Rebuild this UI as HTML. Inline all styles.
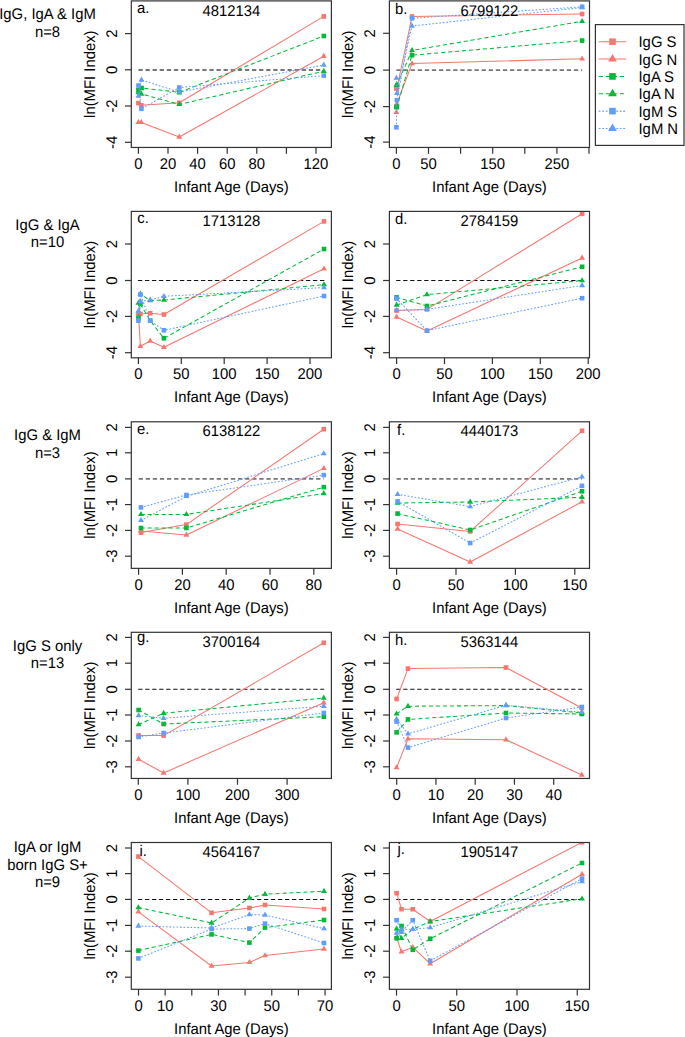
<!DOCTYPE html>
<html><head><meta charset="utf-8"><style>
html,body{margin:0;padding:0;background:#fff;}
svg{display:block;}
text{font-family:"Liberation Sans",sans-serif;font-size:14.85px;fill:#000;text-rendering:geometricPrecision;}
</style></head><body>
<svg width="685" height="1037" viewBox="0 0 685 1037">
<rect width="685" height="1037" fill="#fff"/>
<clipPath id="ca"><rect x="131.3" y="0.9" width="200.10" height="146.55"/></clipPath>
<g clip-path="url(#ca)">
<line x1="138.4" y1="69.95" x2="323.8" y2="69.95" stroke="#767676" stroke-width="1.9" stroke-dasharray="4.3 2.8"/>
<polyline points="138.40,103.10 141.30,105.30 179.30,102.80 323.80,16.40" fill="none" stroke="#F8766D" stroke-width="1.05" stroke-linecap="round" stroke-linejoin="round"/>
<rect x="136.10" y="100.80" width="4.60" height="4.60" fill="#F8766D"/>
<rect x="139.00" y="103.00" width="4.60" height="4.60" fill="#F8766D"/>
<rect x="177.00" y="100.50" width="4.60" height="4.60" fill="#F8766D"/>
<rect x="321.50" y="14.10" width="4.60" height="4.60" fill="#F8766D"/>
<polyline points="138.40,122.40 141.30,122.40 179.30,137.00 323.80,56.20" fill="none" stroke="#F8766D" stroke-width="1.05" stroke-linecap="round" stroke-linejoin="round"/>
<polygon points="138.40,118.98 141.36,124.11 135.44,124.11" fill="#F8766D"/>
<polygon points="141.30,118.98 144.26,124.11 138.34,124.11" fill="#F8766D"/>
<polygon points="179.30,133.58 182.26,138.71 176.34,138.71" fill="#F8766D"/>
<polygon points="323.80,52.78 326.76,57.91 320.84,57.91" fill="#F8766D"/>
<polyline points="138.40,90.00 141.60,88.00 179.30,92.30 323.80,36.00" fill="none" stroke="#00BA38" stroke-width="1.05" stroke-linecap="round" stroke-linejoin="round" stroke-dasharray="3.4 3.6"/>
<rect x="136.10" y="87.70" width="4.60" height="4.60" fill="#00BA38"/>
<rect x="139.30" y="85.70" width="4.60" height="4.60" fill="#00BA38"/>
<rect x="177.00" y="90.00" width="4.60" height="4.60" fill="#00BA38"/>
<rect x="321.50" y="33.70" width="4.60" height="4.60" fill="#00BA38"/>
<polyline points="138.40,92.50 141.40,94.00 179.30,104.40 323.80,71.20" fill="none" stroke="#00BA38" stroke-width="1.05" stroke-linecap="round" stroke-linejoin="round" stroke-dasharray="3.4 3.6"/>
<polygon points="138.40,89.08 141.36,94.21 135.44,94.21" fill="#00BA38"/>
<polygon points="141.40,90.58 144.36,95.71 138.44,95.71" fill="#00BA38"/>
<polygon points="179.30,100.98 182.26,106.11 176.34,106.11" fill="#00BA38"/>
<polygon points="323.80,67.78 326.76,72.91 320.84,72.91" fill="#00BA38"/>
<polyline points="138.50,85.50 141.40,108.80 179.30,87.50 323.80,75.60" fill="none" stroke="#619CFF" stroke-width="1.05" stroke-linecap="round" stroke-linejoin="round" stroke-dasharray="0.9 2.6"/>
<rect x="136.20" y="83.20" width="4.60" height="4.60" fill="#619CFF"/>
<rect x="139.10" y="106.50" width="4.60" height="4.60" fill="#619CFF"/>
<rect x="177.00" y="85.20" width="4.60" height="4.60" fill="#619CFF"/>
<rect x="321.50" y="73.30" width="4.60" height="4.60" fill="#619CFF"/>
<polyline points="138.40,96.00 141.40,80.00 179.30,92.00 323.80,65.00" fill="none" stroke="#619CFF" stroke-width="1.05" stroke-linecap="round" stroke-linejoin="round" stroke-dasharray="0.9 2.6"/>
<polygon points="138.40,92.58 141.36,97.71 135.44,97.71" fill="#619CFF"/>
<polygon points="141.40,76.58 144.36,81.71 138.44,81.71" fill="#619CFF"/>
<polygon points="179.30,88.58 182.26,93.71 176.34,93.71" fill="#619CFF"/>
<polygon points="323.80,61.58 326.76,66.71 320.84,66.71" fill="#619CFF"/>
</g>
<rect x="131.3" y="0.9" width="200.10" height="146.55" fill="none" stroke="#333" stroke-width="1.2"/>
<line x1="138.4" y1="147.45" x2="138.4" y2="153.75" stroke="#333" stroke-width="1.2"/>
<text transform="translate(138.40,168.95) scale(1,1.04)" text-anchor="middle">0</text>
<line x1="168.0" y1="147.45" x2="168.0" y2="153.75" stroke="#333" stroke-width="1.2"/>
<text transform="translate(168.00,168.95) scale(1,1.04)" text-anchor="middle">20</text>
<line x1="197.6" y1="147.45" x2="197.6" y2="153.75" stroke="#333" stroke-width="1.2"/>
<text transform="translate(197.60,168.95) scale(1,1.04)" text-anchor="middle">40</text>
<line x1="227.2" y1="147.45" x2="227.2" y2="153.75" stroke="#333" stroke-width="1.2"/>
<text transform="translate(227.20,168.95) scale(1,1.04)" text-anchor="middle">60</text>
<line x1="256.8" y1="147.45" x2="256.8" y2="153.75" stroke="#333" stroke-width="1.2"/>
<text transform="translate(256.80,168.95) scale(1,1.04)" text-anchor="middle">80</text>
<line x1="286.4" y1="147.45" x2="286.4" y2="153.75" stroke="#333" stroke-width="1.2"/>
<line x1="316.0" y1="147.45" x2="316.0" y2="153.75" stroke="#333" stroke-width="1.2"/>
<text transform="translate(316.00,168.95) scale(1,1.04)" text-anchor="middle">120</text>
<line x1="125.00" y1="33.6" x2="131.3" y2="33.6" stroke="#333" stroke-width="1.2"/>
<text transform="translate(117.30,33.60) rotate(-90) scale(1,1.04)" text-anchor="middle">2</text>
<line x1="125.00" y1="69.8" x2="131.3" y2="69.8" stroke="#333" stroke-width="1.2"/>
<text transform="translate(117.30,69.80) rotate(-90) scale(1,1.04)" text-anchor="middle">0</text>
<line x1="125.00" y1="106.0" x2="131.3" y2="106.0" stroke="#333" stroke-width="1.2"/>
<text transform="translate(117.30,106.00) rotate(-90) scale(1,1.04)" text-anchor="middle">-2</text>
<line x1="125.00" y1="142.3" x2="131.3" y2="142.3" stroke="#333" stroke-width="1.2"/>
<text transform="translate(117.30,142.30) rotate(-90) scale(1,1.04)" text-anchor="middle">-4</text>
<text transform="translate(231.35,191.95) scale(1,1.04)" text-anchor="middle">Infant Age (Days)</text>
<text transform="translate(94.60,74.17) rotate(-90) scale(1,1.04)" text-anchor="middle">ln(MFI Index)</text>
<text transform="translate(143.10,12.70) scale(1,1.04)" text-anchor="middle">a.</text>
<text transform="translate(231.35,15.50) scale(1,1.04)" text-anchor="middle">4812134</text>
<clipPath id="cb"><rect x="389.4" y="0.9" width="200.10" height="146.55"/></clipPath>
<g clip-path="url(#cb)">
<line x1="396.4" y1="70.1" x2="582.1" y2="70.1" stroke="#767676" stroke-width="1.9" stroke-dasharray="4.3 2.8"/>
<polyline points="396.40,88.50 396.90,88.50 412.00,16.50 582.10,14.00" fill="none" stroke="#F8766D" stroke-width="1.05" stroke-linecap="round" stroke-linejoin="round"/>
<rect x="394.10" y="86.20" width="4.60" height="4.60" fill="#F8766D"/>
<rect x="394.60" y="86.20" width="4.60" height="4.60" fill="#F8766D"/>
<rect x="409.70" y="14.20" width="4.60" height="4.60" fill="#F8766D"/>
<rect x="579.80" y="11.70" width="4.60" height="4.60" fill="#F8766D"/>
<polyline points="396.40,112.40 396.90,103.80 412.00,63.60 582.10,58.80" fill="none" stroke="#F8766D" stroke-width="1.05" stroke-linecap="round" stroke-linejoin="round"/>
<polygon points="396.40,108.98 399.36,114.11 393.44,114.11" fill="#F8766D"/>
<polygon points="396.90,100.38 399.86,105.51 393.94,105.51" fill="#F8766D"/>
<polygon points="412.00,60.18 414.96,65.31 409.04,65.31" fill="#F8766D"/>
<polygon points="582.10,55.38 585.06,60.51 579.14,60.51" fill="#F8766D"/>
<polyline points="396.40,107.00 396.90,107.00 412.00,55.20 582.10,40.60" fill="none" stroke="#00BA38" stroke-width="1.05" stroke-linecap="round" stroke-linejoin="round" stroke-dasharray="3.4 3.6"/>
<rect x="394.10" y="104.70" width="4.60" height="4.60" fill="#00BA38"/>
<rect x="394.60" y="104.70" width="4.60" height="4.60" fill="#00BA38"/>
<rect x="409.70" y="52.90" width="4.60" height="4.60" fill="#00BA38"/>
<rect x="579.80" y="38.30" width="4.60" height="4.60" fill="#00BA38"/>
<polyline points="396.40,85.00 396.90,85.00 412.00,50.40 582.10,21.30" fill="none" stroke="#00BA38" stroke-width="1.05" stroke-linecap="round" stroke-linejoin="round" stroke-dasharray="3.4 3.6"/>
<polygon points="396.40,81.58 399.36,86.71 393.44,86.71" fill="#00BA38"/>
<polygon points="396.90,81.58 399.86,86.71 393.94,86.71" fill="#00BA38"/>
<polygon points="412.00,46.98 414.96,52.11 409.04,52.11" fill="#00BA38"/>
<polygon points="582.10,17.88 585.06,23.01 579.14,23.01" fill="#00BA38"/>
<polyline points="396.40,127.30 396.90,100.20 412.00,18.30 582.10,6.80" fill="none" stroke="#619CFF" stroke-width="1.05" stroke-linecap="round" stroke-linejoin="round" stroke-dasharray="0.9 2.6"/>
<rect x="394.10" y="125.00" width="4.60" height="4.60" fill="#619CFF"/>
<rect x="394.60" y="97.90" width="4.60" height="4.60" fill="#619CFF"/>
<rect x="409.70" y="16.00" width="4.60" height="4.60" fill="#619CFF"/>
<rect x="579.80" y="4.50" width="4.60" height="4.60" fill="#619CFF"/>
<polyline points="396.40,78.10 396.90,93.30 412.00,26.00 582.10,7.50" fill="none" stroke="#619CFF" stroke-width="1.05" stroke-linecap="round" stroke-linejoin="round" stroke-dasharray="0.9 2.6"/>
<polygon points="396.40,74.68 399.36,79.81 393.44,79.81" fill="#619CFF"/>
<polygon points="396.90,89.88 399.86,95.01 393.94,95.01" fill="#619CFF"/>
<polygon points="412.00,22.58 414.96,27.71 409.04,27.71" fill="#619CFF"/>
<polygon points="582.10,4.08 585.06,9.21 579.14,9.21" fill="#619CFF"/>
</g>
<rect x="389.4" y="0.9" width="200.10" height="146.55" fill="none" stroke="#333" stroke-width="1.2"/>
<line x1="396.4" y1="147.45" x2="396.4" y2="153.75" stroke="#333" stroke-width="1.2"/>
<text transform="translate(396.40,168.95) scale(1,1.04)" text-anchor="middle">0</text>
<line x1="428.5" y1="147.45" x2="428.5" y2="153.75" stroke="#333" stroke-width="1.2"/>
<text transform="translate(428.50,168.95) scale(1,1.04)" text-anchor="middle">50</text>
<line x1="460.6" y1="147.45" x2="460.6" y2="153.75" stroke="#333" stroke-width="1.2"/>
<line x1="492.7" y1="147.45" x2="492.7" y2="153.75" stroke="#333" stroke-width="1.2"/>
<text transform="translate(492.70,168.95) scale(1,1.04)" text-anchor="middle">150</text>
<line x1="524.8" y1="147.45" x2="524.8" y2="153.75" stroke="#333" stroke-width="1.2"/>
<line x1="556.9" y1="147.45" x2="556.9" y2="153.75" stroke="#333" stroke-width="1.2"/>
<text transform="translate(556.90,168.95) scale(1,1.04)" text-anchor="middle">250</text>
<line x1="589.0" y1="147.45" x2="589.0" y2="153.75" stroke="#333" stroke-width="1.2"/>
<line x1="383.10" y1="33.3" x2="389.4" y2="33.3" stroke="#333" stroke-width="1.2"/>
<text transform="translate(375.40,33.30) rotate(-90) scale(1,1.04)" text-anchor="middle">2</text>
<line x1="383.10" y1="70.1" x2="389.4" y2="70.1" stroke="#333" stroke-width="1.2"/>
<text transform="translate(375.40,70.10) rotate(-90) scale(1,1.04)" text-anchor="middle">0</text>
<line x1="383.10" y1="106.6" x2="389.4" y2="106.6" stroke="#333" stroke-width="1.2"/>
<text transform="translate(375.40,106.60) rotate(-90) scale(1,1.04)" text-anchor="middle">-2</text>
<line x1="383.10" y1="142.1" x2="389.4" y2="142.1" stroke="#333" stroke-width="1.2"/>
<text transform="translate(375.40,142.10) rotate(-90) scale(1,1.04)" text-anchor="middle">-4</text>
<text transform="translate(489.45,191.95) scale(1,1.04)" text-anchor="middle">Infant Age (Days)</text>
<text transform="translate(352.70,74.17) rotate(-90) scale(1,1.04)" text-anchor="middle">ln(MFI Index)</text>
<text transform="translate(401.20,13.90) scale(1,1.04)" text-anchor="middle">b.</text>
<text transform="translate(489.45,15.50) scale(1,1.04)" text-anchor="middle">6799122</text>
<clipPath id="cc"><rect x="131.3" y="211.4" width="200.10" height="146.40"/></clipPath>
<g clip-path="url(#cc)">
<line x1="138.4" y1="280.5" x2="324.0" y2="280.5" stroke="#111" stroke-width="1.05" stroke-dasharray="3.5 3.5" stroke-linecap="round"/>
<polyline points="138.40,313.00 140.40,313.90 150.20,313.30 163.90,314.50 324.00,221.40" fill="none" stroke="#F8766D" stroke-width="1.05" stroke-linecap="round" stroke-linejoin="round"/>
<rect x="136.10" y="310.70" width="4.60" height="4.60" fill="#F8766D"/>
<rect x="138.10" y="311.60" width="4.60" height="4.60" fill="#F8766D"/>
<rect x="147.90" y="311.00" width="4.60" height="4.60" fill="#F8766D"/>
<rect x="161.60" y="312.20" width="4.60" height="4.60" fill="#F8766D"/>
<rect x="321.70" y="219.10" width="4.60" height="4.60" fill="#F8766D"/>
<polyline points="138.40,313.00 140.40,346.30 150.20,341.00 163.90,347.30 324.00,268.80" fill="none" stroke="#F8766D" stroke-width="1.05" stroke-linecap="round" stroke-linejoin="round"/>
<polygon points="138.40,309.58 141.36,314.71 135.44,314.71" fill="#F8766D"/>
<polygon points="140.40,342.88 143.36,348.01 137.44,348.01" fill="#F8766D"/>
<polygon points="150.20,337.58 153.16,342.71 147.24,342.71" fill="#F8766D"/>
<polygon points="163.90,343.88 166.86,349.01 160.94,349.01" fill="#F8766D"/>
<polygon points="324.00,265.38 326.96,270.51 321.04,270.51" fill="#F8766D"/>
<polyline points="138.40,317.60 140.40,304.00 150.20,320.70 163.90,338.30 324.00,249.00" fill="none" stroke="#00BA38" stroke-width="1.05" stroke-linecap="round" stroke-linejoin="round" stroke-dasharray="3.4 3.6"/>
<rect x="136.10" y="315.30" width="4.60" height="4.60" fill="#00BA38"/>
<rect x="138.10" y="301.70" width="4.60" height="4.60" fill="#00BA38"/>
<rect x="147.90" y="318.40" width="4.60" height="4.60" fill="#00BA38"/>
<rect x="161.60" y="336.00" width="4.60" height="4.60" fill="#00BA38"/>
<rect x="321.70" y="246.70" width="4.60" height="4.60" fill="#00BA38"/>
<polyline points="138.40,303.10 140.40,294.00 150.20,300.50 163.90,300.00 324.00,284.60" fill="none" stroke="#00BA38" stroke-width="1.05" stroke-linecap="round" stroke-linejoin="round" stroke-dasharray="3.4 3.6"/>
<polygon points="138.40,299.68 141.36,304.81 135.44,304.81" fill="#00BA38"/>
<polygon points="140.40,290.58 143.36,295.71 137.44,295.71" fill="#00BA38"/>
<polygon points="150.20,297.08 153.16,302.21 147.24,302.21" fill="#00BA38"/>
<polygon points="163.90,296.58 166.86,301.71 160.94,301.71" fill="#00BA38"/>
<polygon points="324.00,281.18 326.96,286.31 321.04,286.31" fill="#00BA38"/>
<polyline points="138.40,320.70 140.40,294.50 150.20,320.70 163.90,330.30 324.00,296.00" fill="none" stroke="#619CFF" stroke-width="1.05" stroke-linecap="round" stroke-linejoin="round" stroke-dasharray="0.9 2.6"/>
<rect x="136.10" y="318.40" width="4.60" height="4.60" fill="#619CFF"/>
<rect x="138.10" y="292.20" width="4.60" height="4.60" fill="#619CFF"/>
<rect x="147.90" y="318.40" width="4.60" height="4.60" fill="#619CFF"/>
<rect x="161.60" y="328.00" width="4.60" height="4.60" fill="#619CFF"/>
<rect x="321.70" y="293.70" width="4.60" height="4.60" fill="#619CFF"/>
<polyline points="138.40,311.10 140.40,301.30 150.20,300.00 163.90,296.30 324.00,287.60" fill="none" stroke="#619CFF" stroke-width="1.05" stroke-linecap="round" stroke-linejoin="round" stroke-dasharray="0.9 2.6"/>
<polygon points="138.40,307.68 141.36,312.81 135.44,312.81" fill="#619CFF"/>
<polygon points="140.40,297.88 143.36,303.01 137.44,303.01" fill="#619CFF"/>
<polygon points="150.20,296.58 153.16,301.71 147.24,301.71" fill="#619CFF"/>
<polygon points="163.90,292.88 166.86,298.01 160.94,298.01" fill="#619CFF"/>
<polygon points="324.00,284.18 326.96,289.31 321.04,289.31" fill="#619CFF"/>
</g>
<rect x="131.3" y="211.4" width="200.10" height="146.40" fill="none" stroke="#333" stroke-width="1.2"/>
<line x1="138.4" y1="357.8" x2="138.4" y2="364.10" stroke="#333" stroke-width="1.2"/>
<text transform="translate(138.40,379.30) scale(1,1.04)" text-anchor="middle">0</text>
<line x1="181.3" y1="357.8" x2="181.3" y2="364.10" stroke="#333" stroke-width="1.2"/>
<text transform="translate(181.30,379.30) scale(1,1.04)" text-anchor="middle">50</text>
<line x1="224.2" y1="357.8" x2="224.2" y2="364.10" stroke="#333" stroke-width="1.2"/>
<text transform="translate(224.20,379.30) scale(1,1.04)" text-anchor="middle">100</text>
<line x1="267.1" y1="357.8" x2="267.1" y2="364.10" stroke="#333" stroke-width="1.2"/>
<text transform="translate(267.10,379.30) scale(1,1.04)" text-anchor="middle">150</text>
<line x1="310.0" y1="357.8" x2="310.0" y2="364.10" stroke="#333" stroke-width="1.2"/>
<text transform="translate(310.00,379.30) scale(1,1.04)" text-anchor="middle">200</text>
<line x1="125.00" y1="244.0" x2="131.3" y2="244.0" stroke="#333" stroke-width="1.2"/>
<text transform="translate(117.30,244.00) rotate(-90) scale(1,1.04)" text-anchor="middle">2</text>
<line x1="125.00" y1="280.5" x2="131.3" y2="280.5" stroke="#333" stroke-width="1.2"/>
<text transform="translate(117.30,280.50) rotate(-90) scale(1,1.04)" text-anchor="middle">0</text>
<line x1="125.00" y1="316.4" x2="131.3" y2="316.4" stroke="#333" stroke-width="1.2"/>
<text transform="translate(117.30,316.40) rotate(-90) scale(1,1.04)" text-anchor="middle">-2</text>
<line x1="125.00" y1="352.7" x2="131.3" y2="352.7" stroke="#333" stroke-width="1.2"/>
<text transform="translate(117.30,352.70) rotate(-90) scale(1,1.04)" text-anchor="middle">-4</text>
<text transform="translate(231.35,402.30) scale(1,1.04)" text-anchor="middle">Infant Age (Days)</text>
<text transform="translate(94.60,284.60) rotate(-90) scale(1,1.04)" text-anchor="middle">ln(MFI Index)</text>
<text transform="translate(143.10,223.20) scale(1,1.04)" text-anchor="middle">c.</text>
<text transform="translate(231.35,226.00) scale(1,1.04)" text-anchor="middle">1713128</text>
<clipPath id="cd"><rect x="389.4" y="211.4" width="200.10" height="146.40"/></clipPath>
<g clip-path="url(#cd)">
<line x1="396.6" y1="280.5" x2="582.1" y2="280.5" stroke="#111" stroke-width="1.05" stroke-dasharray="3.5 3.5" stroke-linecap="round"/>
<polyline points="396.60,310.60 427.00,309.40 582.10,213.80" fill="none" stroke="#F8766D" stroke-width="1.05" stroke-linecap="round" stroke-linejoin="round"/>
<rect x="394.30" y="308.30" width="4.60" height="4.60" fill="#F8766D"/>
<rect x="424.70" y="307.10" width="4.60" height="4.60" fill="#F8766D"/>
<rect x="579.80" y="211.50" width="4.60" height="4.60" fill="#F8766D"/>
<polyline points="396.60,317.00 427.00,331.00 582.10,258.00" fill="none" stroke="#F8766D" stroke-width="1.05" stroke-linecap="round" stroke-linejoin="round"/>
<polygon points="396.60,313.58 399.56,318.71 393.64,318.71" fill="#F8766D"/>
<polygon points="427.00,327.58 429.96,332.71 424.04,332.71" fill="#F8766D"/>
<polygon points="582.10,254.58 585.06,259.71 579.14,259.71" fill="#F8766D"/>
<polyline points="396.60,297.40 427.00,306.00 582.10,266.80" fill="none" stroke="#00BA38" stroke-width="1.05" stroke-linecap="round" stroke-linejoin="round" stroke-dasharray="3.4 3.6"/>
<rect x="394.30" y="295.10" width="4.60" height="4.60" fill="#00BA38"/>
<rect x="424.70" y="303.70" width="4.60" height="4.60" fill="#00BA38"/>
<rect x="579.80" y="264.50" width="4.60" height="4.60" fill="#00BA38"/>
<polyline points="396.60,305.00 427.00,294.60 582.10,280.60" fill="none" stroke="#00BA38" stroke-width="1.05" stroke-linecap="round" stroke-linejoin="round" stroke-dasharray="3.4 3.6"/>
<polygon points="396.60,301.58 399.56,306.71 393.64,306.71" fill="#00BA38"/>
<polygon points="427.00,291.18 429.96,296.31 424.04,296.31" fill="#00BA38"/>
<polygon points="582.10,277.18 585.06,282.31 579.14,282.31" fill="#00BA38"/>
<polyline points="396.60,298.60 427.00,330.60 582.10,298.20" fill="none" stroke="#619CFF" stroke-width="1.05" stroke-linecap="round" stroke-linejoin="round" stroke-dasharray="0.9 2.6"/>
<rect x="394.30" y="296.30" width="4.60" height="4.60" fill="#619CFF"/>
<rect x="424.70" y="328.30" width="4.60" height="4.60" fill="#619CFF"/>
<rect x="579.80" y="295.90" width="4.60" height="4.60" fill="#619CFF"/>
<polyline points="396.60,310.40 427.00,309.40 582.10,285.50" fill="none" stroke="#619CFF" stroke-width="1.05" stroke-linecap="round" stroke-linejoin="round" stroke-dasharray="0.9 2.6"/>
<polygon points="396.60,306.98 399.56,312.11 393.64,312.11" fill="#619CFF"/>
<polygon points="427.00,305.98 429.96,311.11 424.04,311.11" fill="#619CFF"/>
<polygon points="582.10,282.08 585.06,287.21 579.14,287.21" fill="#619CFF"/>
</g>
<rect x="389.4" y="211.4" width="200.10" height="146.40" fill="none" stroke="#333" stroke-width="1.2"/>
<line x1="396.6" y1="357.8" x2="396.6" y2="364.10" stroke="#333" stroke-width="1.2"/>
<text transform="translate(396.60,379.30) scale(1,1.04)" text-anchor="middle">0</text>
<line x1="444.5" y1="357.8" x2="444.5" y2="364.10" stroke="#333" stroke-width="1.2"/>
<text transform="translate(444.50,379.30) scale(1,1.04)" text-anchor="middle">50</text>
<line x1="492.4" y1="357.8" x2="492.4" y2="364.10" stroke="#333" stroke-width="1.2"/>
<text transform="translate(492.40,379.30) scale(1,1.04)" text-anchor="middle">100</text>
<line x1="540.3" y1="357.8" x2="540.3" y2="364.10" stroke="#333" stroke-width="1.2"/>
<text transform="translate(540.30,379.30) scale(1,1.04)" text-anchor="middle">150</text>
<line x1="588.2" y1="357.8" x2="588.2" y2="364.10" stroke="#333" stroke-width="1.2"/>
<text transform="translate(588.20,379.30) scale(1,1.04)" text-anchor="middle">200</text>
<line x1="383.10" y1="244.0" x2="389.4" y2="244.0" stroke="#333" stroke-width="1.2"/>
<text transform="translate(375.40,244.00) rotate(-90) scale(1,1.04)" text-anchor="middle">2</text>
<line x1="383.10" y1="280.5" x2="389.4" y2="280.5" stroke="#333" stroke-width="1.2"/>
<text transform="translate(375.40,280.50) rotate(-90) scale(1,1.04)" text-anchor="middle">0</text>
<line x1="383.10" y1="316.4" x2="389.4" y2="316.4" stroke="#333" stroke-width="1.2"/>
<text transform="translate(375.40,316.40) rotate(-90) scale(1,1.04)" text-anchor="middle">-2</text>
<line x1="383.10" y1="352.7" x2="389.4" y2="352.7" stroke="#333" stroke-width="1.2"/>
<text transform="translate(375.40,352.70) rotate(-90) scale(1,1.04)" text-anchor="middle">-4</text>
<text transform="translate(489.45,402.30) scale(1,1.04)" text-anchor="middle">Infant Age (Days)</text>
<text transform="translate(352.70,284.60) rotate(-90) scale(1,1.04)" text-anchor="middle">ln(MFI Index)</text>
<text transform="translate(401.20,224.40) scale(1,1.04)" text-anchor="middle">d.</text>
<text transform="translate(489.45,226.00) scale(1,1.04)" text-anchor="middle">2784159</text>
<clipPath id="ce"><rect x="131.3" y="421.8" width="200.10" height="146.56"/></clipPath>
<g clip-path="url(#ce)">
<line x1="138.6" y1="478.9" x2="323.8" y2="478.9" stroke="#767676" stroke-width="1.9" stroke-dasharray="4.3 2.8"/>
<polyline points="141.00,532.60 186.40,524.60 323.80,429.20" fill="none" stroke="#F8766D" stroke-width="1.05" stroke-linecap="round" stroke-linejoin="round"/>
<rect x="138.70" y="530.30" width="4.60" height="4.60" fill="#F8766D"/>
<rect x="184.10" y="522.30" width="4.60" height="4.60" fill="#F8766D"/>
<rect x="321.50" y="426.90" width="4.60" height="4.60" fill="#F8766D"/>
<polyline points="141.00,531.00 186.40,535.00 323.80,468.40" fill="none" stroke="#F8766D" stroke-width="1.05" stroke-linecap="round" stroke-linejoin="round"/>
<polygon points="141.00,527.58 143.96,532.71 138.04,532.71" fill="#F8766D"/>
<polygon points="186.40,531.58 189.36,536.71 183.44,536.71" fill="#F8766D"/>
<polygon points="323.80,464.98 326.76,470.11 320.84,470.11" fill="#F8766D"/>
<polyline points="141.00,528.00 186.40,528.00 323.80,487.20" fill="none" stroke="#00BA38" stroke-width="1.05" stroke-linecap="round" stroke-linejoin="round" stroke-dasharray="3.4 3.6"/>
<rect x="138.70" y="525.70" width="4.60" height="4.60" fill="#00BA38"/>
<rect x="184.10" y="525.70" width="4.60" height="4.60" fill="#00BA38"/>
<rect x="321.50" y="484.90" width="4.60" height="4.60" fill="#00BA38"/>
<polyline points="141.00,514.40 186.40,514.40 323.80,493.50" fill="none" stroke="#00BA38" stroke-width="1.05" stroke-linecap="round" stroke-linejoin="round" stroke-dasharray="3.4 3.6"/>
<polygon points="141.00,510.98 143.96,516.11 138.04,516.11" fill="#00BA38"/>
<polygon points="186.40,510.98 189.36,516.11 183.44,516.11" fill="#00BA38"/>
<polygon points="323.80,490.08 326.76,495.21 320.84,495.21" fill="#00BA38"/>
<polyline points="141.00,507.40 186.40,495.00 323.80,475.10" fill="none" stroke="#619CFF" stroke-width="1.05" stroke-linecap="round" stroke-linejoin="round" stroke-dasharray="0.9 2.6"/>
<rect x="138.70" y="505.10" width="4.60" height="4.60" fill="#619CFF"/>
<rect x="184.10" y="492.70" width="4.60" height="4.60" fill="#619CFF"/>
<rect x="321.50" y="472.80" width="4.60" height="4.60" fill="#619CFF"/>
<polyline points="141.00,520.40 186.40,496.40 323.80,453.60" fill="none" stroke="#619CFF" stroke-width="1.05" stroke-linecap="round" stroke-linejoin="round" stroke-dasharray="0.9 2.6"/>
<polygon points="141.00,516.98 143.96,522.11 138.04,522.11" fill="#619CFF"/>
<polygon points="186.40,492.98 189.36,498.11 183.44,498.11" fill="#619CFF"/>
<polygon points="323.80,450.18 326.76,455.31 320.84,455.31" fill="#619CFF"/>
</g>
<rect x="131.3" y="421.8" width="200.10" height="146.56" fill="none" stroke="#333" stroke-width="1.2"/>
<line x1="138.6" y1="568.36" x2="138.6" y2="574.66" stroke="#333" stroke-width="1.2"/>
<text transform="translate(138.60,589.86) scale(1,1.04)" text-anchor="middle">0</text>
<line x1="182.4" y1="568.36" x2="182.4" y2="574.66" stroke="#333" stroke-width="1.2"/>
<text transform="translate(182.40,589.86) scale(1,1.04)" text-anchor="middle">20</text>
<line x1="226.2" y1="568.36" x2="226.2" y2="574.66" stroke="#333" stroke-width="1.2"/>
<text transform="translate(226.20,589.86) scale(1,1.04)" text-anchor="middle">40</text>
<line x1="270.0" y1="568.36" x2="270.0" y2="574.66" stroke="#333" stroke-width="1.2"/>
<text transform="translate(270.00,589.86) scale(1,1.04)" text-anchor="middle">60</text>
<line x1="313.8" y1="568.36" x2="313.8" y2="574.66" stroke="#333" stroke-width="1.2"/>
<text transform="translate(313.80,589.86) scale(1,1.04)" text-anchor="middle">80</text>
<line x1="125.00" y1="427.4" x2="131.3" y2="427.4" stroke="#333" stroke-width="1.2"/>
<text transform="translate(117.30,427.40) rotate(-90) scale(1,1.04)" text-anchor="middle">2</text>
<line x1="125.00" y1="452.8" x2="131.3" y2="452.8" stroke="#333" stroke-width="1.2"/>
<text transform="translate(117.30,452.80) rotate(-90) scale(1,1.04)" text-anchor="middle">1</text>
<line x1="125.00" y1="478.9" x2="131.3" y2="478.9" stroke="#333" stroke-width="1.2"/>
<text transform="translate(117.30,478.90) rotate(-90) scale(1,1.04)" text-anchor="middle">0</text>
<line x1="125.00" y1="504.6" x2="131.3" y2="504.6" stroke="#333" stroke-width="1.2"/>
<text transform="translate(117.30,504.60) rotate(-90) scale(1,1.04)" text-anchor="middle">-1</text>
<line x1="125.00" y1="530.4" x2="131.3" y2="530.4" stroke="#333" stroke-width="1.2"/>
<text transform="translate(117.30,530.40) rotate(-90) scale(1,1.04)" text-anchor="middle">-2</text>
<line x1="125.00" y1="556.2" x2="131.3" y2="556.2" stroke="#333" stroke-width="1.2"/>
<text transform="translate(117.30,556.20) rotate(-90) scale(1,1.04)" text-anchor="middle">-3</text>
<text transform="translate(231.35,612.86) scale(1,1.04)" text-anchor="middle">Infant Age (Days)</text>
<text transform="translate(94.60,495.08) rotate(-90) scale(1,1.04)" text-anchor="middle">ln(MFI Index)</text>
<text transform="translate(143.10,433.60) scale(1,1.04)" text-anchor="middle">e.</text>
<text transform="translate(231.35,436.40) scale(1,1.04)" text-anchor="middle">6138122</text>
<clipPath id="cf"><rect x="389.4" y="421.8" width="200.10" height="146.56"/></clipPath>
<g clip-path="url(#cf)">
<line x1="396.6" y1="478.9" x2="582.0" y2="478.9" stroke="#767676" stroke-width="1.9" stroke-dasharray="4.3 2.8"/>
<polyline points="397.60,524.00 470.20,531.40 582.00,430.80" fill="none" stroke="#F8766D" stroke-width="1.05" stroke-linecap="round" stroke-linejoin="round"/>
<rect x="395.30" y="521.70" width="4.60" height="4.60" fill="#F8766D"/>
<rect x="467.90" y="529.10" width="4.60" height="4.60" fill="#F8766D"/>
<rect x="579.70" y="428.50" width="4.60" height="4.60" fill="#F8766D"/>
<polyline points="397.60,529.00 470.20,562.00 582.00,501.80" fill="none" stroke="#F8766D" stroke-width="1.05" stroke-linecap="round" stroke-linejoin="round"/>
<polygon points="397.60,525.58 400.56,530.71 394.64,530.71" fill="#F8766D"/>
<polygon points="470.20,558.58 473.16,563.71 467.24,563.71" fill="#F8766D"/>
<polygon points="582.00,498.38 584.96,503.51 579.04,503.51" fill="#F8766D"/>
<polyline points="397.60,513.60 470.20,530.00 582.00,491.30" fill="none" stroke="#00BA38" stroke-width="1.05" stroke-linecap="round" stroke-linejoin="round" stroke-dasharray="3.4 3.6"/>
<rect x="395.30" y="511.30" width="4.60" height="4.60" fill="#00BA38"/>
<rect x="467.90" y="527.70" width="4.60" height="4.60" fill="#00BA38"/>
<rect x="579.70" y="489.00" width="4.60" height="4.60" fill="#00BA38"/>
<polyline points="397.60,503.00 470.20,502.00 582.00,497.20" fill="none" stroke="#00BA38" stroke-width="1.05" stroke-linecap="round" stroke-linejoin="round" stroke-dasharray="3.4 3.6"/>
<polygon points="397.60,499.58 400.56,504.71 394.64,504.71" fill="#00BA38"/>
<polygon points="470.20,498.58 473.16,503.71 467.24,503.71" fill="#00BA38"/>
<polygon points="582.00,493.78 584.96,498.91 579.04,498.91" fill="#00BA38"/>
<polyline points="397.60,501.40 470.20,543.00 582.00,485.80" fill="none" stroke="#619CFF" stroke-width="1.05" stroke-linecap="round" stroke-linejoin="round" stroke-dasharray="0.9 2.6"/>
<rect x="395.30" y="499.10" width="4.60" height="4.60" fill="#619CFF"/>
<rect x="467.90" y="540.70" width="4.60" height="4.60" fill="#619CFF"/>
<rect x="579.70" y="483.50" width="4.60" height="4.60" fill="#619CFF"/>
<polyline points="397.60,494.40 470.20,506.60 582.00,476.90" fill="none" stroke="#619CFF" stroke-width="1.05" stroke-linecap="round" stroke-linejoin="round" stroke-dasharray="0.9 2.6"/>
<polygon points="397.60,490.98 400.56,496.11 394.64,496.11" fill="#619CFF"/>
<polygon points="470.20,503.18 473.16,508.31 467.24,508.31" fill="#619CFF"/>
<polygon points="582.00,473.48 584.96,478.61 579.04,478.61" fill="#619CFF"/>
</g>
<rect x="389.4" y="421.8" width="200.10" height="146.56" fill="none" stroke="#333" stroke-width="1.2"/>
<line x1="396.6" y1="568.36" x2="396.6" y2="574.66" stroke="#333" stroke-width="1.2"/>
<text transform="translate(396.60,589.86) scale(1,1.04)" text-anchor="middle">0</text>
<line x1="456.0" y1="568.36" x2="456.0" y2="574.66" stroke="#333" stroke-width="1.2"/>
<text transform="translate(456.00,589.86) scale(1,1.04)" text-anchor="middle">50</text>
<line x1="515.4" y1="568.36" x2="515.4" y2="574.66" stroke="#333" stroke-width="1.2"/>
<text transform="translate(515.40,589.86) scale(1,1.04)" text-anchor="middle">100</text>
<line x1="574.8" y1="568.36" x2="574.8" y2="574.66" stroke="#333" stroke-width="1.2"/>
<text transform="translate(574.80,589.86) scale(1,1.04)" text-anchor="middle">150</text>
<line x1="383.10" y1="427.4" x2="389.4" y2="427.4" stroke="#333" stroke-width="1.2"/>
<text transform="translate(375.40,427.40) rotate(-90) scale(1,1.04)" text-anchor="middle">2</text>
<line x1="383.10" y1="452.8" x2="389.4" y2="452.8" stroke="#333" stroke-width="1.2"/>
<text transform="translate(375.40,452.80) rotate(-90) scale(1,1.04)" text-anchor="middle">1</text>
<line x1="383.10" y1="478.9" x2="389.4" y2="478.9" stroke="#333" stroke-width="1.2"/>
<text transform="translate(375.40,478.90) rotate(-90) scale(1,1.04)" text-anchor="middle">0</text>
<line x1="383.10" y1="504.6" x2="389.4" y2="504.6" stroke="#333" stroke-width="1.2"/>
<text transform="translate(375.40,504.60) rotate(-90) scale(1,1.04)" text-anchor="middle">-1</text>
<line x1="383.10" y1="530.4" x2="389.4" y2="530.4" stroke="#333" stroke-width="1.2"/>
<text transform="translate(375.40,530.40) rotate(-90) scale(1,1.04)" text-anchor="middle">-2</text>
<line x1="383.10" y1="556.2" x2="389.4" y2="556.2" stroke="#333" stroke-width="1.2"/>
<text transform="translate(375.40,556.20) rotate(-90) scale(1,1.04)" text-anchor="middle">-3</text>
<text transform="translate(489.45,612.86) scale(1,1.04)" text-anchor="middle">Infant Age (Days)</text>
<text transform="translate(352.70,495.08) rotate(-90) scale(1,1.04)" text-anchor="middle">ln(MFI Index)</text>
<text transform="translate(401.20,434.80) scale(1,1.04)" text-anchor="middle">f.</text>
<text transform="translate(489.45,436.40) scale(1,1.04)" text-anchor="middle">4440173</text>
<clipPath id="cg"><rect x="131.3" y="632.3" width="200.10" height="146.15"/></clipPath>
<g clip-path="url(#cg)">
<line x1="138.6" y1="689.3" x2="323.8" y2="689.3" stroke="#111" stroke-width="1.05" stroke-dasharray="3.5 3.5" stroke-linecap="round"/>
<polyline points="138.60,735.40 163.60,735.60 323.80,642.80" fill="none" stroke="#F8766D" stroke-width="1.05" stroke-linecap="round" stroke-linejoin="round"/>
<rect x="136.30" y="733.10" width="4.60" height="4.60" fill="#F8766D"/>
<rect x="161.30" y="733.30" width="4.60" height="4.60" fill="#F8766D"/>
<rect x="321.50" y="640.50" width="4.60" height="4.60" fill="#F8766D"/>
<polyline points="138.60,759.20 163.60,773.00 323.80,702.70" fill="none" stroke="#F8766D" stroke-width="1.05" stroke-linecap="round" stroke-linejoin="round"/>
<polygon points="138.60,755.78 141.56,760.91 135.64,760.91" fill="#F8766D"/>
<polygon points="163.60,769.58 166.56,774.71 160.64,774.71" fill="#F8766D"/>
<polygon points="323.80,699.28 326.76,704.41 320.84,704.41" fill="#F8766D"/>
<polyline points="138.60,710.00 163.60,724.00 323.80,716.70" fill="none" stroke="#00BA38" stroke-width="1.05" stroke-linecap="round" stroke-linejoin="round" stroke-dasharray="3.4 3.6"/>
<rect x="136.30" y="707.70" width="4.60" height="4.60" fill="#00BA38"/>
<rect x="161.30" y="721.70" width="4.60" height="4.60" fill="#00BA38"/>
<rect x="321.50" y="714.40" width="4.60" height="4.60" fill="#00BA38"/>
<polyline points="138.60,724.60 163.60,713.20 323.80,698.00" fill="none" stroke="#00BA38" stroke-width="1.05" stroke-linecap="round" stroke-linejoin="round" stroke-dasharray="3.4 3.6"/>
<polygon points="138.60,721.18 141.56,726.31 135.64,726.31" fill="#00BA38"/>
<polygon points="163.60,709.78 166.56,714.91 160.64,714.91" fill="#00BA38"/>
<polygon points="323.80,694.58 326.76,699.71 320.84,699.71" fill="#00BA38"/>
<polyline points="138.60,737.00 163.60,733.00 323.80,713.00" fill="none" stroke="#619CFF" stroke-width="1.05" stroke-linecap="round" stroke-linejoin="round" stroke-dasharray="0.9 2.6"/>
<rect x="136.30" y="734.70" width="4.60" height="4.60" fill="#619CFF"/>
<rect x="161.30" y="730.70" width="4.60" height="4.60" fill="#619CFF"/>
<rect x="321.50" y="710.70" width="4.60" height="4.60" fill="#619CFF"/>
<polyline points="138.60,715.60 163.60,718.20 323.80,706.20" fill="none" stroke="#619CFF" stroke-width="1.05" stroke-linecap="round" stroke-linejoin="round" stroke-dasharray="0.9 2.6"/>
<polygon points="138.60,712.18 141.56,717.31 135.64,717.31" fill="#619CFF"/>
<polygon points="163.60,714.78 166.56,719.91 160.64,719.91" fill="#619CFF"/>
<polygon points="323.80,702.78 326.76,707.91 320.84,707.91" fill="#619CFF"/>
</g>
<rect x="131.3" y="632.3" width="200.10" height="146.15" fill="none" stroke="#333" stroke-width="1.2"/>
<line x1="138.3" y1="778.45" x2="138.3" y2="784.75" stroke="#333" stroke-width="1.2"/>
<text transform="translate(138.30,799.95) scale(1,1.04)" text-anchor="middle">0</text>
<line x1="187.9" y1="778.45" x2="187.9" y2="784.75" stroke="#333" stroke-width="1.2"/>
<text transform="translate(187.90,799.95) scale(1,1.04)" text-anchor="middle">100</text>
<line x1="237.5" y1="778.45" x2="237.5" y2="784.75" stroke="#333" stroke-width="1.2"/>
<text transform="translate(237.50,799.95) scale(1,1.04)" text-anchor="middle">200</text>
<line x1="287.1" y1="778.45" x2="287.1" y2="784.75" stroke="#333" stroke-width="1.2"/>
<text transform="translate(287.10,799.95) scale(1,1.04)" text-anchor="middle">300</text>
<line x1="125.00" y1="637.4" x2="131.3" y2="637.4" stroke="#333" stroke-width="1.2"/>
<text transform="translate(117.30,637.40) rotate(-90) scale(1,1.04)" text-anchor="middle">2</text>
<line x1="125.00" y1="663.2" x2="131.3" y2="663.2" stroke="#333" stroke-width="1.2"/>
<text transform="translate(117.30,663.20) rotate(-90) scale(1,1.04)" text-anchor="middle">1</text>
<line x1="125.00" y1="689.3" x2="131.3" y2="689.3" stroke="#333" stroke-width="1.2"/>
<text transform="translate(117.30,689.30) rotate(-90) scale(1,1.04)" text-anchor="middle">0</text>
<line x1="125.00" y1="715.0" x2="131.3" y2="715.0" stroke="#333" stroke-width="1.2"/>
<text transform="translate(117.30,715.00) rotate(-90) scale(1,1.04)" text-anchor="middle">-1</text>
<line x1="125.00" y1="741.0" x2="131.3" y2="741.0" stroke="#333" stroke-width="1.2"/>
<text transform="translate(117.30,741.00) rotate(-90) scale(1,1.04)" text-anchor="middle">-2</text>
<line x1="125.00" y1="766.8" x2="131.3" y2="766.8" stroke="#333" stroke-width="1.2"/>
<text transform="translate(117.30,766.80) rotate(-90) scale(1,1.04)" text-anchor="middle">-3</text>
<text transform="translate(231.35,822.95) scale(1,1.04)" text-anchor="middle">Infant Age (Days)</text>
<text transform="translate(94.60,705.38) rotate(-90) scale(1,1.04)" text-anchor="middle">ln(MFI Index)</text>
<text transform="translate(143.10,642.30) scale(1,1.04)" text-anchor="middle">g.</text>
<text transform="translate(231.35,646.90) scale(1,1.04)" text-anchor="middle">3700164</text>
<clipPath id="ch"><rect x="389.4" y="632.3" width="200.10" height="146.15"/></clipPath>
<g clip-path="url(#ch)">
<line x1="396.6" y1="689.3" x2="581.8" y2="689.3" stroke="#111" stroke-width="1.05" stroke-dasharray="3.5 3.5" stroke-linecap="round"/>
<polyline points="396.60,699.00 408.00,668.60 506.00,667.50 581.80,708.00" fill="none" stroke="#F8766D" stroke-width="1.05" stroke-linecap="round" stroke-linejoin="round"/>
<rect x="394.30" y="696.70" width="4.60" height="4.60" fill="#F8766D"/>
<rect x="405.70" y="666.30" width="4.60" height="4.60" fill="#F8766D"/>
<rect x="503.70" y="665.20" width="4.60" height="4.60" fill="#F8766D"/>
<rect x="579.50" y="705.70" width="4.60" height="4.60" fill="#F8766D"/>
<polyline points="396.60,767.60 408.00,738.80 506.00,739.70 581.80,775.00" fill="none" stroke="#F8766D" stroke-width="1.05" stroke-linecap="round" stroke-linejoin="round"/>
<polygon points="396.60,764.18 399.56,769.31 393.64,769.31" fill="#F8766D"/>
<polygon points="408.00,735.38 410.96,740.51 405.04,740.51" fill="#F8766D"/>
<polygon points="506.00,736.28 508.96,741.41 503.04,741.41" fill="#F8766D"/>
<polygon points="581.80,771.58 584.76,776.71 578.84,776.71" fill="#F8766D"/>
<polyline points="396.60,732.40 408.00,719.40 506.00,713.00 581.80,714.00" fill="none" stroke="#00BA38" stroke-width="1.05" stroke-linecap="round" stroke-linejoin="round" stroke-dasharray="3.4 3.6"/>
<rect x="394.30" y="730.10" width="4.60" height="4.60" fill="#00BA38"/>
<rect x="405.70" y="717.10" width="4.60" height="4.60" fill="#00BA38"/>
<rect x="503.70" y="710.70" width="4.60" height="4.60" fill="#00BA38"/>
<rect x="579.50" y="711.70" width="4.60" height="4.60" fill="#00BA38"/>
<polyline points="396.60,713.80 408.00,706.20 506.00,705.60 581.80,713.00" fill="none" stroke="#00BA38" stroke-width="1.05" stroke-linecap="round" stroke-linejoin="round" stroke-dasharray="3.4 3.6"/>
<polygon points="396.60,710.38 399.56,715.51 393.64,715.51" fill="#00BA38"/>
<polygon points="408.00,702.78 410.96,707.91 405.04,707.91" fill="#00BA38"/>
<polygon points="506.00,702.18 508.96,707.31 503.04,707.31" fill="#00BA38"/>
<polygon points="581.80,709.58 584.76,714.71 578.84,714.71" fill="#00BA38"/>
<polyline points="396.60,721.60 408.00,747.60 506.00,718.00 581.80,707.00" fill="none" stroke="#619CFF" stroke-width="1.05" stroke-linecap="round" stroke-linejoin="round" stroke-dasharray="0.9 2.6"/>
<rect x="394.30" y="719.30" width="4.60" height="4.60" fill="#619CFF"/>
<rect x="405.70" y="745.30" width="4.60" height="4.60" fill="#619CFF"/>
<rect x="503.70" y="715.70" width="4.60" height="4.60" fill="#619CFF"/>
<rect x="579.50" y="704.70" width="4.60" height="4.60" fill="#619CFF"/>
<polyline points="396.60,719.20 408.00,733.80 506.00,705.20 581.80,712.20" fill="none" stroke="#619CFF" stroke-width="1.05" stroke-linecap="round" stroke-linejoin="round" stroke-dasharray="0.9 2.6"/>
<polygon points="396.60,715.78 399.56,720.91 393.64,720.91" fill="#619CFF"/>
<polygon points="408.00,730.38 410.96,735.51 405.04,735.51" fill="#619CFF"/>
<polygon points="506.00,701.78 508.96,706.91 503.04,706.91" fill="#619CFF"/>
<polygon points="581.80,708.78 584.76,713.91 578.84,713.91" fill="#619CFF"/>
</g>
<rect x="389.4" y="632.3" width="200.10" height="146.15" fill="none" stroke="#333" stroke-width="1.2"/>
<line x1="396.7" y1="778.45" x2="396.7" y2="784.75" stroke="#333" stroke-width="1.2"/>
<text transform="translate(396.70,799.95) scale(1,1.04)" text-anchor="middle">0</text>
<line x1="435.95" y1="778.45" x2="435.95" y2="784.75" stroke="#333" stroke-width="1.2"/>
<text transform="translate(435.95,799.95) scale(1,1.04)" text-anchor="middle">10</text>
<line x1="475.2" y1="778.45" x2="475.2" y2="784.75" stroke="#333" stroke-width="1.2"/>
<text transform="translate(475.20,799.95) scale(1,1.04)" text-anchor="middle">20</text>
<line x1="514.45" y1="778.45" x2="514.45" y2="784.75" stroke="#333" stroke-width="1.2"/>
<text transform="translate(514.45,799.95) scale(1,1.04)" text-anchor="middle">30</text>
<line x1="553.7" y1="778.45" x2="553.7" y2="784.75" stroke="#333" stroke-width="1.2"/>
<text transform="translate(553.70,799.95) scale(1,1.04)" text-anchor="middle">40</text>
<line x1="383.10" y1="637.4" x2="389.4" y2="637.4" stroke="#333" stroke-width="1.2"/>
<text transform="translate(375.40,637.40) rotate(-90) scale(1,1.04)" text-anchor="middle">2</text>
<line x1="383.10" y1="663.2" x2="389.4" y2="663.2" stroke="#333" stroke-width="1.2"/>
<text transform="translate(375.40,663.20) rotate(-90) scale(1,1.04)" text-anchor="middle">1</text>
<line x1="383.10" y1="689.3" x2="389.4" y2="689.3" stroke="#333" stroke-width="1.2"/>
<text transform="translate(375.40,689.30) rotate(-90) scale(1,1.04)" text-anchor="middle">0</text>
<line x1="383.10" y1="715.0" x2="389.4" y2="715.0" stroke="#333" stroke-width="1.2"/>
<text transform="translate(375.40,715.00) rotate(-90) scale(1,1.04)" text-anchor="middle">-1</text>
<line x1="383.10" y1="741.0" x2="389.4" y2="741.0" stroke="#333" stroke-width="1.2"/>
<text transform="translate(375.40,741.00) rotate(-90) scale(1,1.04)" text-anchor="middle">-2</text>
<line x1="383.10" y1="766.8" x2="389.4" y2="766.8" stroke="#333" stroke-width="1.2"/>
<text transform="translate(375.40,766.80) rotate(-90) scale(1,1.04)" text-anchor="middle">-3</text>
<text transform="translate(489.45,822.95) scale(1,1.04)" text-anchor="middle">Infant Age (Days)</text>
<text transform="translate(352.70,705.38) rotate(-90) scale(1,1.04)" text-anchor="middle">ln(MFI Index)</text>
<text transform="translate(401.20,645.30) scale(1,1.04)" text-anchor="middle">h.</text>
<text transform="translate(489.45,646.90) scale(1,1.04)" text-anchor="middle">5363144</text>
<clipPath id="ci"><rect x="131.3" y="842.5" width="200.10" height="146.80"/></clipPath>
<g clip-path="url(#ci)">
<line x1="138.4" y1="899.4" x2="324.0" y2="899.4" stroke="#111" stroke-width="1.05" stroke-dasharray="3.5 3.5" stroke-linecap="round"/>
<polyline points="138.40,856.60 211.60,912.80 249.40,908.00 265.00,905.00 324.00,909.00" fill="none" stroke="#F8766D" stroke-width="1.05" stroke-linecap="round" stroke-linejoin="round"/>
<rect x="136.10" y="854.30" width="4.60" height="4.60" fill="#F8766D"/>
<rect x="209.30" y="910.50" width="4.60" height="4.60" fill="#F8766D"/>
<rect x="247.10" y="905.70" width="4.60" height="4.60" fill="#F8766D"/>
<rect x="262.70" y="902.70" width="4.60" height="4.60" fill="#F8766D"/>
<rect x="321.70" y="906.70" width="4.60" height="4.60" fill="#F8766D"/>
<polyline points="138.40,911.80 211.60,966.00 249.40,962.40 265.00,955.60 324.00,949.00" fill="none" stroke="#F8766D" stroke-width="1.05" stroke-linecap="round" stroke-linejoin="round"/>
<polygon points="138.40,908.38 141.36,913.51 135.44,913.51" fill="#F8766D"/>
<polygon points="211.60,962.58 214.56,967.71 208.64,967.71" fill="#F8766D"/>
<polygon points="249.40,958.98 252.36,964.11 246.44,964.11" fill="#F8766D"/>
<polygon points="265.00,952.18 267.96,957.31 262.04,957.31" fill="#F8766D"/>
<polygon points="324.00,945.58 326.96,950.71 321.04,950.71" fill="#F8766D"/>
<polyline points="138.40,950.60 211.60,934.40 249.40,942.60 265.00,927.60 324.00,920.00" fill="none" stroke="#00BA38" stroke-width="1.05" stroke-linecap="round" stroke-linejoin="round" stroke-dasharray="3.4 3.6"/>
<rect x="136.10" y="948.30" width="4.60" height="4.60" fill="#00BA38"/>
<rect x="209.30" y="932.10" width="4.60" height="4.60" fill="#00BA38"/>
<rect x="247.10" y="940.30" width="4.60" height="4.60" fill="#00BA38"/>
<rect x="262.70" y="925.30" width="4.60" height="4.60" fill="#00BA38"/>
<rect x="321.70" y="917.70" width="4.60" height="4.60" fill="#00BA38"/>
<polyline points="138.40,907.60 211.60,923.00 249.40,898.00 265.00,894.20 324.00,891.20" fill="none" stroke="#00BA38" stroke-width="1.05" stroke-linecap="round" stroke-linejoin="round" stroke-dasharray="3.4 3.6"/>
<polygon points="138.40,904.18 141.36,909.31 135.44,909.31" fill="#00BA38"/>
<polygon points="211.60,919.58 214.56,924.71 208.64,924.71" fill="#00BA38"/>
<polygon points="249.40,894.58 252.36,899.71 246.44,899.71" fill="#00BA38"/>
<polygon points="265.00,890.78 267.96,895.91 262.04,895.91" fill="#00BA38"/>
<polygon points="324.00,887.78 326.96,892.91 321.04,892.91" fill="#00BA38"/>
<polyline points="138.40,958.40 211.60,929.00 249.40,928.60 265.00,923.60 324.00,943.00" fill="none" stroke="#619CFF" stroke-width="1.05" stroke-linecap="round" stroke-linejoin="round" stroke-dasharray="0.9 2.6"/>
<rect x="136.10" y="956.10" width="4.60" height="4.60" fill="#619CFF"/>
<rect x="209.30" y="926.70" width="4.60" height="4.60" fill="#619CFF"/>
<rect x="247.10" y="926.30" width="4.60" height="4.60" fill="#619CFF"/>
<rect x="262.70" y="921.30" width="4.60" height="4.60" fill="#619CFF"/>
<rect x="321.70" y="940.70" width="4.60" height="4.60" fill="#619CFF"/>
<polyline points="138.40,926.00 211.60,928.00 249.40,914.60 265.00,915.00 324.00,928.60" fill="none" stroke="#619CFF" stroke-width="1.05" stroke-linecap="round" stroke-linejoin="round" stroke-dasharray="0.9 2.6"/>
<polygon points="138.40,922.58 141.36,927.71 135.44,927.71" fill="#619CFF"/>
<polygon points="211.60,924.58 214.56,929.71 208.64,929.71" fill="#619CFF"/>
<polygon points="249.40,911.18 252.36,916.31 246.44,916.31" fill="#619CFF"/>
<polygon points="265.00,911.58 267.96,916.71 262.04,916.71" fill="#619CFF"/>
<polygon points="324.00,925.18 326.96,930.31 321.04,930.31" fill="#619CFF"/>
</g>
<rect x="131.3" y="842.5" width="200.10" height="146.80" fill="none" stroke="#333" stroke-width="1.2"/>
<line x1="138.5" y1="989.3" x2="138.5" y2="995.60" stroke="#333" stroke-width="1.2"/>
<text transform="translate(138.50,1010.80) scale(1,1.04)" text-anchor="middle">0</text>
<line x1="165.15" y1="989.3" x2="165.15" y2="995.60" stroke="#333" stroke-width="1.2"/>
<text transform="translate(165.15,1010.80) scale(1,1.04)" text-anchor="middle">10</text>
<line x1="191.8" y1="989.3" x2="191.8" y2="995.60" stroke="#333" stroke-width="1.2"/>
<line x1="218.45" y1="989.3" x2="218.45" y2="995.60" stroke="#333" stroke-width="1.2"/>
<text transform="translate(218.45,1010.80) scale(1,1.04)" text-anchor="middle">30</text>
<line x1="245.1" y1="989.3" x2="245.1" y2="995.60" stroke="#333" stroke-width="1.2"/>
<line x1="271.75" y1="989.3" x2="271.75" y2="995.60" stroke="#333" stroke-width="1.2"/>
<text transform="translate(271.75,1010.80) scale(1,1.04)" text-anchor="middle">50</text>
<line x1="298.4" y1="989.3" x2="298.4" y2="995.60" stroke="#333" stroke-width="1.2"/>
<line x1="325.05" y1="989.3" x2="325.05" y2="995.60" stroke="#333" stroke-width="1.2"/>
<text transform="translate(325.05,1010.80) scale(1,1.04)" text-anchor="middle">70</text>
<line x1="125.00" y1="848.0" x2="131.3" y2="848.0" stroke="#333" stroke-width="1.2"/>
<text transform="translate(117.30,848.00) rotate(-90) scale(1,1.04)" text-anchor="middle">2</text>
<line x1="125.00" y1="873.6" x2="131.3" y2="873.6" stroke="#333" stroke-width="1.2"/>
<text transform="translate(117.30,873.60) rotate(-90) scale(1,1.04)" text-anchor="middle">1</text>
<line x1="125.00" y1="899.4" x2="131.3" y2="899.4" stroke="#333" stroke-width="1.2"/>
<text transform="translate(117.30,899.40) rotate(-90) scale(1,1.04)" text-anchor="middle">0</text>
<line x1="125.00" y1="925.4" x2="131.3" y2="925.4" stroke="#333" stroke-width="1.2"/>
<text transform="translate(117.30,925.40) rotate(-90) scale(1,1.04)" text-anchor="middle">-1</text>
<line x1="125.00" y1="951.2" x2="131.3" y2="951.2" stroke="#333" stroke-width="1.2"/>
<text transform="translate(117.30,951.20) rotate(-90) scale(1,1.04)" text-anchor="middle">-2</text>
<line x1="125.00" y1="977.2" x2="131.3" y2="977.2" stroke="#333" stroke-width="1.2"/>
<text transform="translate(117.30,977.20) rotate(-90) scale(1,1.04)" text-anchor="middle">-3</text>
<text transform="translate(231.35,1033.80) scale(1,1.04)" text-anchor="middle">Infant Age (Days)</text>
<text transform="translate(94.60,915.90) rotate(-90) scale(1,1.04)" text-anchor="middle">ln(MFI Index)</text>
<text transform="translate(143.10,855.50) scale(1,1.04)" text-anchor="middle">i.</text>
<text transform="translate(231.35,857.10) scale(1,1.04)" text-anchor="middle">4564167</text>
<clipPath id="cj"><rect x="389.4" y="842.5" width="200.10" height="146.80"/></clipPath>
<g clip-path="url(#cj)">
<line x1="396.6" y1="899.4" x2="582.0" y2="899.4" stroke="#111" stroke-width="1.05" stroke-dasharray="3.5 3.5" stroke-linecap="round"/>
<polyline points="396.60,893.20 401.50,909.20 412.80,909.20 430.20,921.50 582.00,842.30" fill="none" stroke="#F8766D" stroke-width="1.05" stroke-linecap="round" stroke-linejoin="round"/>
<rect x="394.30" y="890.90" width="4.60" height="4.60" fill="#F8766D"/>
<rect x="399.20" y="906.90" width="4.60" height="4.60" fill="#F8766D"/>
<rect x="410.50" y="906.90" width="4.60" height="4.60" fill="#F8766D"/>
<rect x="427.90" y="919.20" width="4.60" height="4.60" fill="#F8766D"/>
<rect x="579.70" y="840.00" width="4.60" height="4.60" fill="#F8766D"/>
<polyline points="396.60,937.50 401.50,951.80 412.80,947.30 430.20,963.70 582.00,874.20" fill="none" stroke="#F8766D" stroke-width="1.05" stroke-linecap="round" stroke-linejoin="round"/>
<polygon points="396.60,934.08 399.56,939.21 393.64,939.21" fill="#F8766D"/>
<polygon points="401.50,948.38 404.46,953.51 398.54,953.51" fill="#F8766D"/>
<polygon points="412.80,943.88 415.76,949.01 409.84,949.01" fill="#F8766D"/>
<polygon points="430.20,960.28 433.16,965.41 427.24,965.41" fill="#F8766D"/>
<polygon points="582.00,870.78 584.96,875.91 579.04,875.91" fill="#F8766D"/>
<polyline points="396.60,938.30 401.50,926.00 412.80,949.80 430.20,938.70 582.00,863.00" fill="none" stroke="#00BA38" stroke-width="1.05" stroke-linecap="round" stroke-linejoin="round" stroke-dasharray="3.4 3.6"/>
<rect x="394.30" y="936.00" width="4.60" height="4.60" fill="#00BA38"/>
<rect x="399.20" y="923.70" width="4.60" height="4.60" fill="#00BA38"/>
<rect x="410.50" y="947.50" width="4.60" height="4.60" fill="#00BA38"/>
<rect x="427.90" y="936.40" width="4.60" height="4.60" fill="#00BA38"/>
<rect x="579.70" y="860.70" width="4.60" height="4.60" fill="#00BA38"/>
<polyline points="396.60,928.90 401.50,938.30 412.80,929.30 430.20,921.50 582.00,898.80" fill="none" stroke="#00BA38" stroke-width="1.05" stroke-linecap="round" stroke-linejoin="round" stroke-dasharray="3.4 3.6"/>
<polygon points="396.60,925.48 399.56,930.61 393.64,930.61" fill="#00BA38"/>
<polygon points="401.50,934.88 404.46,940.01 398.54,940.01" fill="#00BA38"/>
<polygon points="412.80,925.88 415.76,931.01 409.84,931.01" fill="#00BA38"/>
<polygon points="430.20,918.08 433.16,923.21 427.24,923.21" fill="#00BA38"/>
<polygon points="582.00,895.38 584.96,900.51 579.04,900.51" fill="#00BA38"/>
<polyline points="396.60,920.20 401.50,931.70 412.80,920.20 430.20,960.80 582.00,878.60" fill="none" stroke="#619CFF" stroke-width="1.05" stroke-linecap="round" stroke-linejoin="round" stroke-dasharray="0.9 2.6"/>
<rect x="394.30" y="917.90" width="4.60" height="4.60" fill="#619CFF"/>
<rect x="399.20" y="929.40" width="4.60" height="4.60" fill="#619CFF"/>
<rect x="410.50" y="917.90" width="4.60" height="4.60" fill="#619CFF"/>
<rect x="427.90" y="958.50" width="4.60" height="4.60" fill="#619CFF"/>
<rect x="579.70" y="876.30" width="4.60" height="4.60" fill="#619CFF"/>
<polyline points="396.60,933.00 401.50,929.30 412.80,929.30 430.20,927.60 582.00,881.60" fill="none" stroke="#619CFF" stroke-width="1.05" stroke-linecap="round" stroke-linejoin="round" stroke-dasharray="0.9 2.6"/>
<polygon points="396.60,929.58 399.56,934.71 393.64,934.71" fill="#619CFF"/>
<polygon points="401.50,925.88 404.46,931.01 398.54,931.01" fill="#619CFF"/>
<polygon points="412.80,925.88 415.76,931.01 409.84,931.01" fill="#619CFF"/>
<polygon points="430.20,924.18 433.16,929.31 427.24,929.31" fill="#619CFF"/>
<polygon points="582.00,878.18 584.96,883.31 579.04,883.31" fill="#619CFF"/>
</g>
<rect x="389.4" y="842.5" width="200.10" height="146.80" fill="none" stroke="#333" stroke-width="1.2"/>
<line x1="396.5" y1="989.3" x2="396.5" y2="995.60" stroke="#333" stroke-width="1.2"/>
<text transform="translate(396.50,1010.80) scale(1,1.04)" text-anchor="middle">0</text>
<line x1="456.75" y1="989.3" x2="456.75" y2="995.60" stroke="#333" stroke-width="1.2"/>
<text transform="translate(456.75,1010.80) scale(1,1.04)" text-anchor="middle">50</text>
<line x1="517.0" y1="989.3" x2="517.0" y2="995.60" stroke="#333" stroke-width="1.2"/>
<text transform="translate(517.00,1010.80) scale(1,1.04)" text-anchor="middle">100</text>
<line x1="577.25" y1="989.3" x2="577.25" y2="995.60" stroke="#333" stroke-width="1.2"/>
<text transform="translate(577.25,1010.80) scale(1,1.04)" text-anchor="middle">150</text>
<line x1="383.10" y1="848.0" x2="389.4" y2="848.0" stroke="#333" stroke-width="1.2"/>
<text transform="translate(375.40,848.00) rotate(-90) scale(1,1.04)" text-anchor="middle">2</text>
<line x1="383.10" y1="873.6" x2="389.4" y2="873.6" stroke="#333" stroke-width="1.2"/>
<text transform="translate(375.40,873.60) rotate(-90) scale(1,1.04)" text-anchor="middle">1</text>
<line x1="383.10" y1="899.4" x2="389.4" y2="899.4" stroke="#333" stroke-width="1.2"/>
<text transform="translate(375.40,899.40) rotate(-90) scale(1,1.04)" text-anchor="middle">0</text>
<line x1="383.10" y1="925.4" x2="389.4" y2="925.4" stroke="#333" stroke-width="1.2"/>
<text transform="translate(375.40,925.40) rotate(-90) scale(1,1.04)" text-anchor="middle">-1</text>
<line x1="383.10" y1="951.2" x2="389.4" y2="951.2" stroke="#333" stroke-width="1.2"/>
<text transform="translate(375.40,951.20) rotate(-90) scale(1,1.04)" text-anchor="middle">-2</text>
<line x1="383.10" y1="977.2" x2="389.4" y2="977.2" stroke="#333" stroke-width="1.2"/>
<text transform="translate(375.40,977.20) rotate(-90) scale(1,1.04)" text-anchor="middle">-3</text>
<text transform="translate(489.45,1033.80) scale(1,1.04)" text-anchor="middle">Infant Age (Days)</text>
<text transform="translate(352.70,915.90) rotate(-90) scale(1,1.04)" text-anchor="middle">ln(MFI Index)</text>
<text transform="translate(401.20,854.30) scale(1,1.04)" text-anchor="middle">j.</text>
<text transform="translate(489.45,857.10) scale(1,1.04)" text-anchor="middle">1905147</text>
<text transform="translate(47.50,19.40) scale(1,1.04)" text-anchor="middle">IgG, IgA &amp; IgM</text>
<text transform="translate(47.50,36.90) scale(1,1.04)" text-anchor="middle">n=8</text>
<text transform="translate(47.50,229.90) scale(1,1.04)" text-anchor="middle">IgG &amp; IgA</text>
<text transform="translate(47.50,247.40) scale(1,1.04)" text-anchor="middle">n=10</text>
<text transform="translate(47.50,440.30) scale(1,1.04)" text-anchor="middle">IgG &amp; IgM</text>
<text transform="translate(47.50,457.80) scale(1,1.04)" text-anchor="middle">n=3</text>
<text transform="translate(47.50,650.80) scale(1,1.04)" text-anchor="middle">IgG S only</text>
<text transform="translate(47.50,668.30) scale(1,1.04)" text-anchor="middle">n=13</text>
<text transform="translate(47.50,852.40) scale(1,1.04)" text-anchor="middle">IgA or IgM</text>
<text transform="translate(47.50,869.50) scale(1,1.04)" text-anchor="middle">born IgG S+</text>
<text transform="translate(47.50,887.00) scale(1,1.04)" text-anchor="middle">n=9</text>
<rect x="595.4" y="24.6" width="88.60" height="120.80" fill="none" stroke="#333" stroke-width="1.2"/>
<line x1="599.2" y1="41.70" x2="625.8" y2="41.70" stroke="#F8766D" stroke-width="1.05" stroke-linecap="round"/>
<rect x="609.20" y="38.40" width="6.60" height="6.60" fill="#F8766D"/>
<text transform="translate(638.50,47.30) scale(1,1.04)">IgG S</text>
<line x1="599.2" y1="59.06" x2="625.8" y2="59.06" stroke="#F8766D" stroke-width="1.05" stroke-linecap="round"/>
<polygon points="612.50,54.01 616.88,61.59 608.12,61.59" fill="#F8766D"/>
<text transform="translate(638.50,64.66) scale(1,1.04)">IgG N</text>
<line x1="599.2" y1="76.42" x2="625.8" y2="76.42" stroke="#00BA38" stroke-width="1.05" stroke-linecap="round" stroke-dasharray="3.4 3.6"/>
<rect x="609.20" y="73.12" width="6.60" height="6.60" fill="#00BA38"/>
<text transform="translate(638.50,82.02) scale(1,1.04)">IgA S</text>
<line x1="599.2" y1="93.78" x2="625.8" y2="93.78" stroke="#00BA38" stroke-width="1.05" stroke-linecap="round" stroke-dasharray="3.4 3.6"/>
<polygon points="612.50,88.73 616.88,96.31 608.12,96.31" fill="#00BA38"/>
<text transform="translate(638.50,99.38) scale(1,1.04)">IgA N</text>
<line x1="599.2" y1="111.14" x2="625.8" y2="111.14" stroke="#619CFF" stroke-width="1.05" stroke-linecap="round" stroke-dasharray="0.9 2.6"/>
<rect x="609.20" y="107.84" width="6.60" height="6.60" fill="#619CFF"/>
<text transform="translate(638.50,116.74) scale(1,1.04)">IgM S</text>
<line x1="599.2" y1="128.50" x2="625.8" y2="128.50" stroke="#619CFF" stroke-width="1.05" stroke-linecap="round" stroke-dasharray="0.9 2.6"/>
<polygon points="612.50,123.45 616.88,131.03 608.12,131.03" fill="#619CFF"/>
<text transform="translate(638.50,134.10) scale(1,1.04)">IgM N</text>
</svg></body></html>
